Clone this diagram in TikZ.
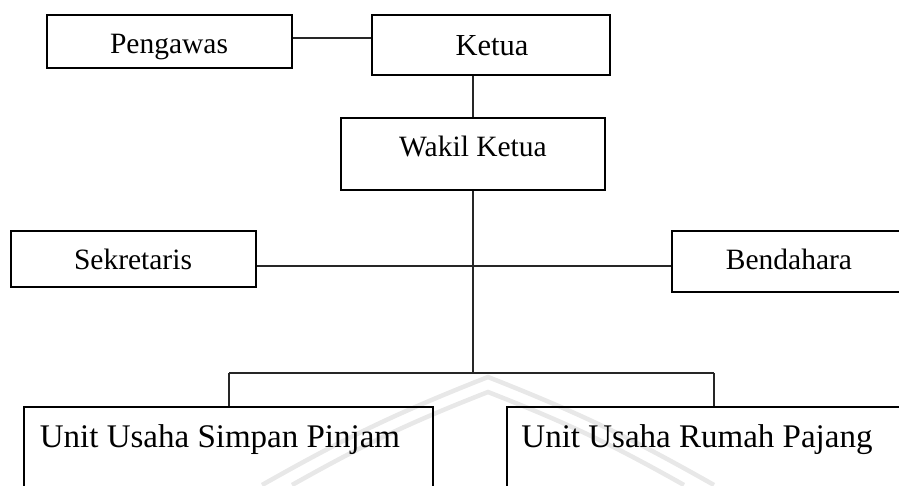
\documentclass[tikz,border=0pt]{standalone}
\usepackage{fontspec}
\setmainfont{Liberation Serif}
\begin{document}
\begin{tikzpicture}[x=1pt,y=-1pt,
  orgbox/.style={draw=black, line width=2.6pt, rectangle, inner sep=0pt},
  lbl/.style={anchor=base, inner sep=0pt, font=\fontsize{29.5}{32}\selectfont},
  biglbl/.style={anchor=base, inner sep=0pt, font=\fontsize{33}{36}\selectfont},
  conn/.style={draw=black!85, line width=1.2pt},
  wmark/.style={draw=black!9, line width=4.5pt}]
\useasboundingbox (0,0) rectangle (899,485);
% faint watermark
\draw[wmark] (262,485) to[bend left=4] (488,377) to[bend left=4] (714,485);
\draw[wmark] (292,485) to[bend left=4] (488,392) to[bend left=4] (684,485);
% boxes
\node[orgbox, minimum width=245pt, minimum height=53pt] (peng) at (169.5,41.5) {};
\node[orgbox, minimum width=238pt, minimum height=60pt] (ketua) at (491,45) {};
\node[orgbox, minimum width=264pt, minimum height=72pt] (wakil) at (473,154) {};
\node[orgbox, minimum width=245pt, minimum height=56pt] (sek) at (133.5,259) {};
\node[orgbox, minimum width=240pt, minimum height=61pt] (bend) at (792,261.5) {};
\node[orgbox, minimum width=409pt, minimum height=100pt] (simp) at (228.5,457) {};
\node[orgbox, minimum width=400pt, minimum height=100pt] (rumah) at (707,457) {};
% labels
\node[lbl] (tpeng) at (169,53) {Pengawas};
\node[lbl, font=\fontsize{30.5}{33}\selectfont] (tketua) at (492,55) {Ketua};
\node[lbl] (twakil) at (473,156) {Wakil Ketua};
\node[lbl] (tsek) at (133,269) {Sekretaris};
\node[lbl] (tbend) at (789,269) {Bendahara};
\node[biglbl] (tsimp) at (220,447) {Unit Usaha Simpan Pinjam};
\node[biglbl] (trumah) at (697,447) {Unit Usaha Rumah Pajang};
% connectors
\coordinate (j) at (473,373);
\coordinate (jl) at (229,373);
\coordinate (jr) at (714,373);
\draw[conn] (peng.east |- 0,38) -- (ketua.west |- 0,38);
\draw[conn] (wakil.north) -- (wakil.north |- ketua.south);
\draw[conn] (wakil.south) -- (j);
\draw[conn] (sek.east |- 0,266) -- (bend.west |- 0,266);
\draw[conn] (jl) -- (jr);
\draw[conn] (jl) -- (jl |- simp.north);
\draw[conn] (jr) -- (jr |- rumah.north);
\end{tikzpicture}
\end{document}
